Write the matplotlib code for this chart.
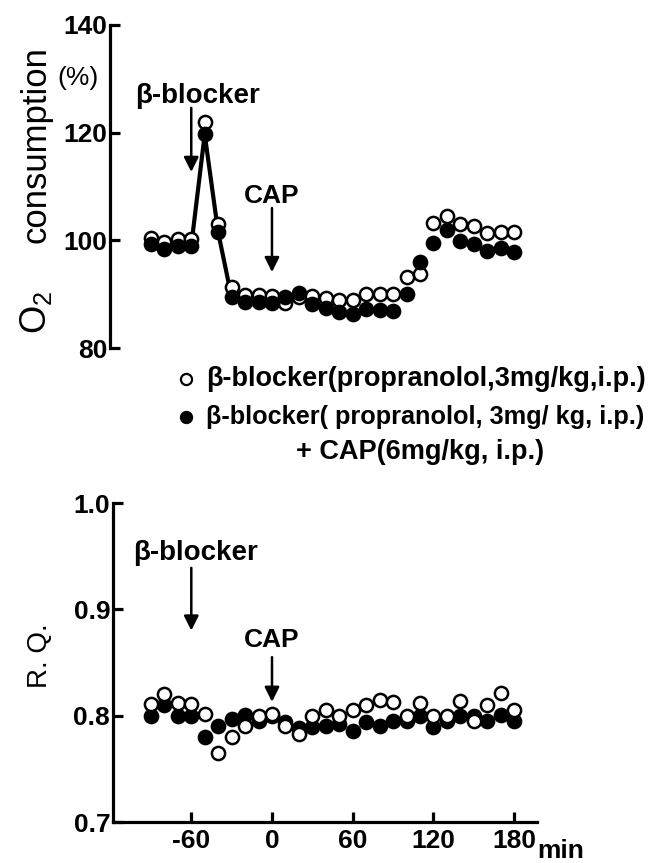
import matplotlib
matplotlib.use('Agg')
import matplotlib.pyplot as plt
from matplotlib.lines import Line2D

plt.rcParams['font.family'] = ['Liberation Sans', 'DejaVu Sans']
plt.rcParams['mathtext.fontset'] = 'custom'
plt.rcParams['mathtext.rm'] = 'Liberation Sans'

# time after CAP (min)
minutes = list(range(-90, 190, 10))

# O2 consumption (%)
o2_bb = [100.5, 99.6, 100.2, 100.2, 121.9, 103.0, 91.3, 89.8, 89.8, 89.6,
         88.3, 89.5, 89.6, 89.2, 88.9, 88.9, 90.0, 90.0, 90.0, 93.1,
         93.7, 103.3, 104.5, 103.0, 102.6, 101.4, 101.6, 101.6]
o2_bb_cap = [99.3, 98.3, 99.0, 99.0, 119.7, 101.5, 89.4, 88.5, 88.5, 88.3,
             89.4, 90.3, 88.1, 87.4, 86.6, 86.3, 87.2, 87.0, 86.8, 90.0,
             96.0, 99.5, 102.0, 99.8, 99.3, 98.0, 98.5, 97.8]

# R.Q.
rq_bb = [0.811, 0.820, 0.812, 0.811, 0.802, 0.765, 0.780, 0.790, 0.800, 0.802,
         0.790, 0.783, 0.800, 0.805, 0.800, 0.805, 0.810, 0.815, 0.813, 0.800,
         0.812, 0.800, 0.800, 0.814, 0.795, 0.810, 0.821, 0.805]
rq_bb_cap = [0.800, 0.810, 0.800, 0.800, 0.780, 0.790, 0.797, 0.801, 0.795, 0.800,
             0.794, 0.788, 0.789, 0.790, 0.792, 0.786, 0.794, 0.790, 0.795, 0.795,
             0.800, 0.789, 0.795, 0.800, 0.800, 0.795, 0.801, 0.795]

xticks = [-60, 0, 60, 120, 180]

W, H = 664, 863
fig = plt.figure(figsize=(W / 100, H / 100), dpi=100)


def box(x0, y0, x1, y1):
    # pixel box (top-left origin) -> figure fraction
    return [x0 / W, 1 - y1 / H, (x1 - x0) / W, (y1 - y0) / H]


def fx(x):
    return x / W


def fy(y):
    return 1 - y / H


lw = 2.3
ms = 9.5
tick_font = dict(fontsize=19, fontweight='bold')

# ---------- top: O2 consumption ----------
ax1 = fig.add_axes(box(110, 25, 537, 348))
ax1.set_xlim(-120.4, 197)
ax1.set_ylim(80, 140)
for s in ['top', 'right', 'bottom']:
    ax1.spines[s].set_visible(False)
ax1.spines['left'].set_linewidth(lw)
ax1.set_xticks([])
ax1.set_yticks([80, 100, 120, 140])
ax1.set_yticklabels(['80', '100', '120', '140'], **tick_font)
ax1.tick_params(axis='y', direction='in', length=7, width=lw, pad=2)

ax1.plot(minutes[3:7], o2_bb_cap[3:7], color='k', lw=3, zorder=1)
ax1.plot(minutes, o2_bb, 'o', ms=ms, mfc='white', mec='k', mew=1.8, zorder=2)
ax1.plot(minutes, o2_bb_cap, 'o', ms=ms, mfc='k', mec='k', mew=1.8, zorder=3)

arrow = dict(arrowstyle='-|>', lw=1.8, color='k', mutation_scale=22,
             shrinkA=0, shrinkB=0)
ax1.annotate('', xy=(-60, 112.7), xytext=(-60, 124.6), arrowprops=arrow)
ax1.text(-55, 126.8, 'β-blocker', ha='center', va='center', fontsize=20,
         fontweight='bold')
ax1.annotate('', xy=(0, 94.1), xytext=(0, 106), arrowprops=arrow)
ax1.text(0, 108.2, 'CAP', ha='center', va='center', fontsize=19,
         fontweight='bold')

fig.text(fx(36), fy(145), 'consumption', rotation=90, ha='center',
         va='center', fontsize=25)
fig.text(fx(36), fy(312), 'O$_2$', rotation=90, ha='center', va='center',
         fontsize=26)
fig.text(fx(78), fy(78), '(%)', ha='center', va='center', fontsize=19)

# ---------- legend ----------
fig.add_artist(Line2D([fx(186)], [fy(379)], marker='o', ms=8, mfc='white',
                      mec='k', mew=1.6, transform=fig.transFigure))
fig.add_artist(Line2D([fx(186)], [fy(417)], marker='o', ms=8, mfc='k',
                      mec='k', mew=1.6, transform=fig.transFigure))
fig.text(fx(206), fy(379), 'β-blocker(propranolol,3mg/kg,i.p.)',
         ha='left', va='center', fontsize=19.5, fontweight='bold')
fig.text(fx(206), fy(417), 'β-blocker( propranolol, 3mg/ kg, i.p.)',
         ha='left', va='center', fontsize=18.2, fontweight='bold')
fig.text(fx(296), fy(452), '+ CAP(6mg/kg, i.p.)',
         ha='left', va='center', fontsize=19.5, fontweight='bold')

# ---------- bottom: R.Q. ----------
ax2 = fig.add_axes(box(113, 503, 537, 822))
ax2.set_xlim(-118.2, 197)
ax2.set_ylim(0.7, 1.0)
for s in ['top', 'right']:
    ax2.spines[s].set_visible(False)
for s in ['left', 'bottom']:
    ax2.spines[s].set_linewidth(lw)
ax2.set_yticks([0.7, 0.8, 0.9, 1.0])
ax2.set_yticklabels(['0.7', '0.8', '0.9', '1.0'], **tick_font)
ax2.set_xticks(xticks)
ax2.set_xticklabels([str(t) for t in xticks], **tick_font)
ax2.tick_params(axis='both', direction='in', length=7, width=lw, pad=5)
ax2.tick_params(axis='y', pad=2)

ax2.plot(minutes, rq_bb, 'o', ms=ms, mfc='white', mec='k', mew=1.8, zorder=3)
ax2.plot(minutes, rq_bb_cap, 'o', ms=ms, mfc='k', mec='k', mew=1.8, zorder=2)

ax2.annotate('', xy=(-60, 0.880), xytext=(-60, 0.939), arrowprops=arrow)
ax2.text(-57, 0.953, 'β-blocker', ha='center', va='center', fontsize=20,
         fontweight='bold')
ax2.annotate('', xy=(0, 0.813), xytext=(0, 0.855), arrowprops=arrow)
ax2.text(0, 0.871, 'CAP', ha='center', va='center', fontsize=19,
         fontweight='bold')

fig.text(fx(537), fy(851), 'min', ha='left', va='center', fontsize=19,
         fontweight='bold')
fig.text(fx(40), fy(656), 'R. Q.', rotation=90, ha='center', va='center',
         fontsize=20)

fig.savefig('out.png', dpi=100)
